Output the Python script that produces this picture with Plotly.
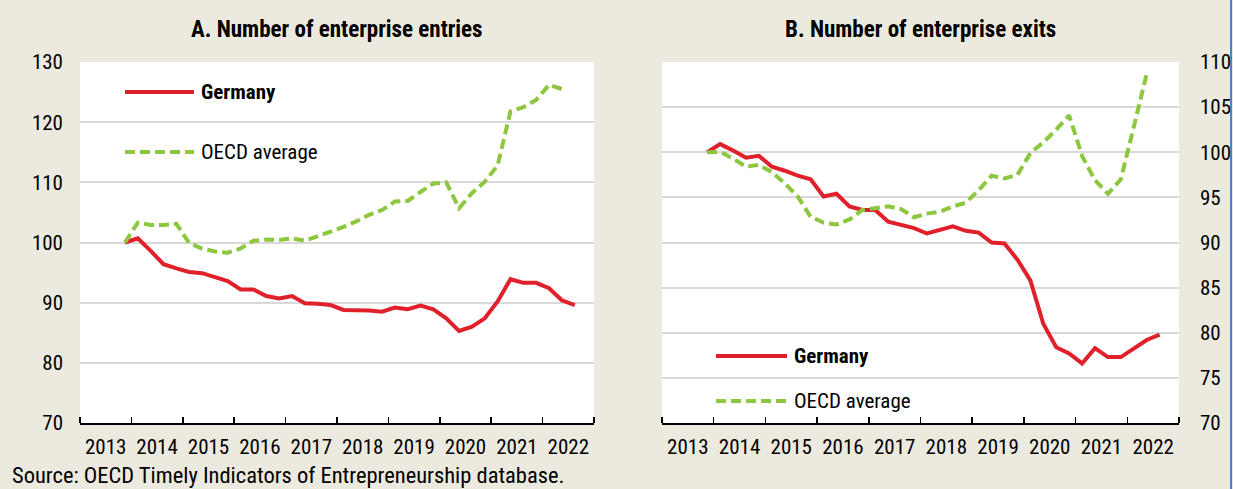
import plotly.graph_objects as go

# ---------------- data ----------------
quarters = ["2013Q4",
            "2014Q1", "2014Q2", "2014Q3", "2014Q4",
            "2015Q1", "2015Q2", "2015Q3", "2015Q4",
            "2016Q1", "2016Q2", "2016Q3", "2016Q4",
            "2017Q1", "2017Q2", "2017Q3", "2017Q4",
            "2018Q1", "2018Q2", "2018Q3", "2018Q4",
            "2019Q1", "2019Q2", "2019Q3", "2019Q4",
            "2020Q1", "2020Q2", "2020Q3", "2020Q4",
            "2021Q1", "2021Q2", "2021Q3", "2021Q4",
            "2022Q1", "2022Q2", "2022Q3"]
years = [2013, 2014, 2015, 2016, 2017, 2018, 2019, 2020, 2021, 2022]

germany_entries = [100.0, 100.7, 98.6, 96.4, 95.7, 95.1, 94.9, 94.3, 93.6, 92.2,
                   92.2, 91.1, 90.7, 91.1, 89.9, 89.8, 89.6, 88.8, 88.8, 88.7,
                   88.5, 89.2, 88.9, 89.5, 88.9, 87.4, 85.3, 86.0, 87.4, 90.2,
                   93.9, 93.3, 93.3, 92.4, 90.4, 89.6]
oecd_entries = [100.0, 103.3, 102.9, 102.9, 103.1, 99.9, 99.0, 98.5, 98.3, 99.0,
                100.3, 100.5, 100.4, 100.7, 100.3, 101.0, 101.8, 102.6, 103.5, 104.6,
                105.4, 106.8, 106.9, 108.4, 109.8, 110.0, 105.7, 108.2, 110.1, 112.8,
                121.8, 122.5, 123.7, 126.2, 125.5]
germany_exits = [100.0, 100.9, 100.2, 99.4, 99.6, 98.4, 97.95, 97.4, 97.0, 95.1,
                 95.4, 94.0, 93.6, 93.6, 92.3, 91.9, 91.6, 91.0, 91.45, 91.8,
                 91.3, 91.1, 90.0, 89.9, 88.1, 85.8, 81.0, 78.4, 77.7, 76.6,
                 78.3, 77.3, 77.3, 78.3, 79.2, 79.8]
oecd_exits = [100.0, 100.05, 99.3, 98.4, 98.6, 97.8, 96.55, 95.1, 92.85, 92.2,
              92.0, 92.55, 93.6, 93.85, 94.0, 93.7, 92.8, 93.2, 93.4, 94.0,
              94.4, 95.8, 97.4, 97.1, 97.5, 99.9, 101.1, 102.5, 104.1, 99.6,
              96.9, 95.4, 97.0, 102.8, 108.7]

titles = ["A. Number of enterprise entries", "B. Number of enterprise exits"]
source_text = "Source: OECD Timely Indicators of Entrepreneurship database."

# --------------- helpers ---------------
W, H = 1233, 489
FONT = "Liberation Sans Narrow, Arial Narrow, Roboto Condensed, Liberation Sans, Arial, sans-serif"
FS = 21
RED = "#E0202A"
GREEN = "#8DC63F"
BG = "#ECE9DF"
GRID = "#D9D9D9"


def qx(label):
    """Quarter label -> position on a continuous year axis (centre of the quarter)."""
    y, q = label.split("Q")
    return int(y) + (int(q) - 0.5) / 4.0


def px(x):
    return x / W


def py(y):
    return 1 - y / H


x_all = [qx(q) for q in quarters]

fig = go.Figure()

fig.add_trace(go.Scatter(x=x_all, y=germany_entries, mode="lines", name="Germany",
                         line=dict(color=RED, width=4), xaxis="x", yaxis="y", showlegend=False))
fig.add_trace(go.Scatter(x=x_all[:len(oecd_entries)], y=oecd_entries, mode="lines", name="OECD average",
                         line=dict(color=GREEN, width=4, dash="10px,5px"), xaxis="x", yaxis="y",
                         showlegend=False))
fig.add_trace(go.Scatter(x=x_all, y=germany_exits, mode="lines", name="Germany",
                         line=dict(color=RED, width=4), xaxis="x2", yaxis="y2", showlegend=False))
fig.add_trace(go.Scatter(x=x_all[:len(oecd_exits)], y=oecd_exits, mode="lines", name="OECD average",
                         line=dict(color=GREEN, width=4, dash="10px,5px"), xaxis="x2", yaxis="y2",
                         showlegend=False))

dom1 = [px(80), px(594)]
dom2 = [px(662), px(1179)]
ydom = [py(423), py(62)]

xcommon = dict(range=[years[0], years[-1] + 1],
               tickmode="array", tickvals=[y + 0.5 for y in years], ticktext=[str(y) for y in years],
               ticks="", showgrid=False, zeroline=False, automargin=False,
               showline=True, linecolor="black", linewidth=1.5,
               minor=dict(tickmode="array", tickvals=list(range(years[0], years[-1] + 2)),
                          ticks="inside", ticklen=6, tickwidth=1.5, tickcolor="black", showgrid=False),
               tickfont=dict(family=FONT, size=FS, color="black"),
               ticklabelstandoff=4, fixedrange=True)

fig.update_layout(
    template="none",
    width=W, height=H,
    margin=dict(l=0, r=0, t=0, b=0, pad=0),
    paper_bgcolor=BG, plot_bgcolor="white",
    font=dict(family=FONT, size=FS, color="black"),
    showlegend=False,
    xaxis=dict(domain=dom1, anchor="y", **xcommon),
    xaxis2=dict(domain=dom2, anchor="y2", **xcommon),
    yaxis=dict(domain=ydom, anchor="x", range=[70, 130], dtick=10, tick0=70, automargin=False,
               showgrid=True, gridcolor=GRID, gridwidth=2, zeroline=False, showline=False,
               ticks="", ticklabelstandoff=16, fixedrange=True,
               tickfont=dict(family=FONT, size=FS, color="black")),
    yaxis2=dict(domain=ydom, anchor="x2", side="right", range=[70, 110], dtick=5, tick0=70,
                automargin=False,
                showgrid=True, gridcolor=GRID, gridwidth=2, zeroline=False, showline=False,
                ticks="", ticklabelstandoff=20, fixedrange=True,
                tickfont=dict(family=FONT, size=FS, color="black")),
)

# legend keys (drawn as shapes in paper coordinates) and labels
legend_items = [
    # (x0, x1, y, colour, dash, label, bold)
    (125, 194, 92, RED, "solid", "Germany", True),
    (125, 194, 152, GREEN, "dash", "OECD average", False),
    (716, 787, 356, RED, "solid", "Germany", True),
    (716, 787, 401, GREEN, "dash", "OECD average", False),
]
for x0, x1, yy, col, dash, lab, bold in legend_items:
    fig.add_shape(type="line", xref="paper", yref="paper",
                  x0=px(x0), x1=px(x1), y0=py(yy), y1=py(yy),
                  line=dict(color=col, width=4, dash="10px,5px" if dash == "dash" else "solid"))
    fig.add_annotation(xref="paper", yref="paper", x=px(x1 + 5), y=py(yy),
                       xanchor="left", yanchor="middle", showarrow=False,
                       text=f"<b>{lab}</b>" if bold else lab,
                       font=dict(family=FONT, size=FS, color="black"))

# panel titles
for dom, t in zip([dom1, dom2], titles):
    fig.add_annotation(xref="paper", yref="paper", x=(dom[0] + dom[1]) / 2, y=py(29),
                       xanchor="center", yanchor="middle", showarrow=False,
                       text=f"<b>{t}</b>", font=dict(family=FONT, size=23, color="black"))

# source note
fig.add_annotation(xref="paper", yref="paper", x=px(10), y=py(475),
                   xanchor="left", yanchor="middle", showarrow=False,
                   text=source_text, font=dict(family=FONT, size=22.5, color="black"))

# right frame line
fig.add_shape(type="line", xref="paper", yref="paper", x0=px(1231), x1=px(1231), y0=0, y1=1,
              line=dict(color="#4F81BD", width=2), layer="above")

fig.write_html("out.html",
               config={"displayModeBar": False, "staticPlot": True},
               post_script="document.body.style.margin='0';document.body.style.padding='0';"
                           "document.body.style.overflow='hidden';")
